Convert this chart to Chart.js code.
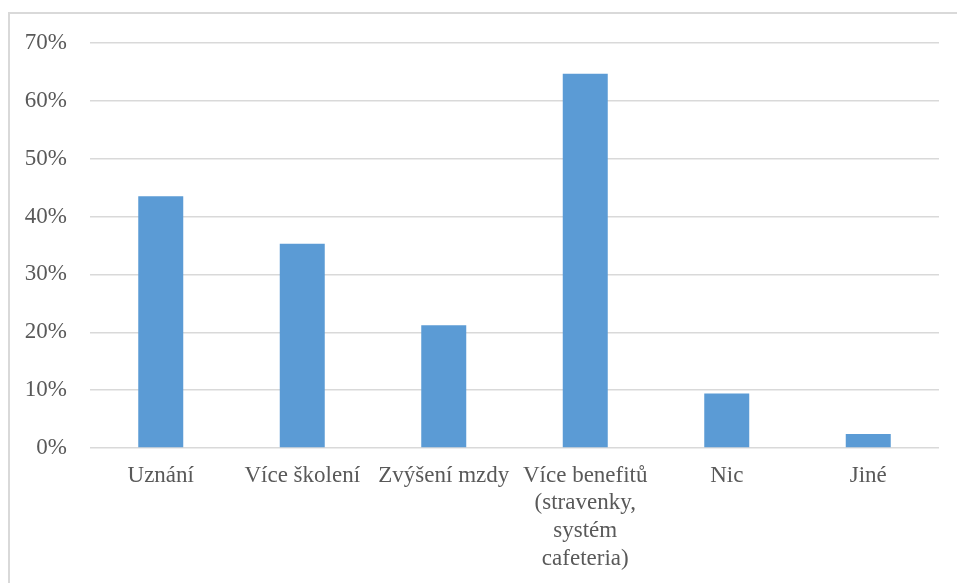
<!DOCTYPE html>
<html>
<head>
<meta charset="utf-8">
<script src="https://cdn.jsdelivr.net/npm/chart.js@4.4.1/dist/chart.umd.min.js"></script>
<style>
  html, body { margin: 0; padding: 0; background: #ffffff; overflow: hidden; }
  #frame {
    position: absolute; left: 8px; top: 12px;
    width: 1200px; height: 1000px;
    border: 2px solid #d9d9d9; box-sizing: border-box;
  }
  #wrap { position: absolute; left: 0; top: 0; width: 957px; height: 583px; }
</style>
</head>
<body>
<div id="frame"></div>
<div id="wrap"><canvas id="chart" width="957" height="583"></canvas></div>
<script>
// Survey answers: what would motivate employees more
const categories = [
  'Uznání',
  'Více školení',
  'Zvýšení mzdy',
  ['Více benefitů', '(stravenky,', 'systém', 'cafeteria)'],
  'Nic',
  'Jiné'
];
const shares = [43.5, 35.3, 21.2, 64.7, 9.4, 2.4];
const yTicks = [0, 10, 20, 30, 40, 50, 60, 70];

const textColor = '#595959';
const gridColor = '#d9d9d9';
const barColor = '#5b9bd5';
const labelFont = { family: '"Liberation Serif", "Times New Roman", serif', size: 23, lineHeight: 1.2 };

new Chart(document.getElementById('chart'), {
  type: 'bar',
  data: {
    labels: categories,
    datasets: [{
      data: shares,
      backgroundColor: barColor,
      borderWidth: 0,
      categoryPercentage: 1,
      barPercentage: 0.318
    }]
  },
  options: {
    responsive: false,
    animation: false,
    events: [],
    layout: { padding: { top: 43, right: 18, left: 0, bottom: 0 } },
    plugins: { legend: { display: false }, tooltip: { enabled: false } },
    scales: {
      x: {
        grid: { display: false, drawTicks: false },
        border: { display: false },
        ticks: {
          color: textColor, font: labelFont, padding: 14,
          maxRotation: 0, minRotation: 0, autoSkip: false
        },
        afterFit(scale) { scale.height = 583 - 448; }
      },
      y: {
        min: 0, max: 70,
        afterBuildTicks(scale) { scale.ticks = yTicks.map(v => ({ value: v })); },
        grid: { color: gridColor, lineWidth: 1.5, drawTicks: false },
        border: { display: false },
        ticks: {
          color: textColor, font: labelFont, padding: 23,
          callback: v => v + '%'
        },
        afterFit(scale) { scale.width = 90; }
      }
    }
  }
});
</script>
</body>
</html>
